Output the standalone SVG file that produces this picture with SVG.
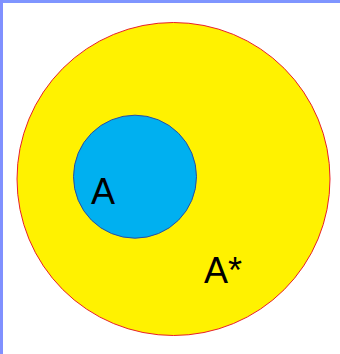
<svg xmlns="http://www.w3.org/2000/svg" width="340" height="354" viewBox="0 0 340 354">
<style>
.lbl{font-family:"Liberation Sans",Arial,sans-serif;font-size:36px;fill:#000}
</style>
<rect x="0" y="0" width="340" height="354" fill="#fff"/>
<rect x="0" y="0" width="340" height="3" fill="#7f95ff"/>
<rect x="0" y="0" width="3" height="354" fill="#8090ff"/>
<g id="complement">
<circle cx="173.5" cy="179" r="156.5" fill="#fff200" stroke="#e8202a" stroke-width="1"/>
<text class="lbl" x="204" y="283">A*</text>
</g>
<g id="setA">
<circle cx="135" cy="176.7" r="61.5" fill="#00b0f0" stroke="#2a4fa0" stroke-width="1"/>
<text class="lbl" x="91" y="204">A</text>
</g>
</svg>
